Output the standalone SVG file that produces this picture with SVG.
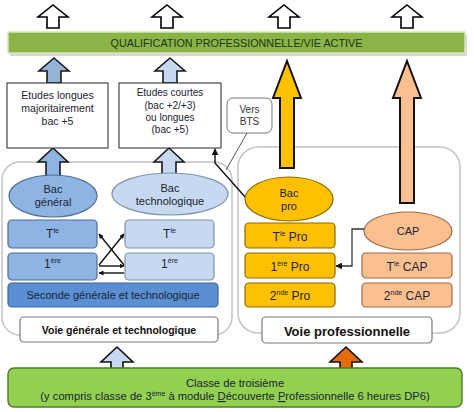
<svg xmlns="http://www.w3.org/2000/svg" width="474" height="412" viewBox="0 0 474 412">
<style>
text{font-family:"Liberation Sans",Arial,sans-serif;text-anchor:middle;fill:#1c2433}
.hollow{fill:#fff;stroke:#000;stroke-width:1.6;stroke-linejoin:miter}
.cont{fill:#fff;stroke:#c4c4c4;stroke-width:1.5}
.wbox{fill:#fff;stroke:#222;stroke-width:1}
.gen{fill:#8EB4E3;stroke:#4F6F96;stroke-width:1.2}
.tech{fill:#C6D9F1;stroke:#7F93AE;stroke-width:1.2}
.sec{fill:#5A8FD4;stroke:#3C6596;stroke-width:1.2}
.gold{fill:#FFC000;stroke:#8C6A00;stroke-width:1.2}
.peach{fill:#FAC090;stroke:#9C6A45;stroke-width:1.2}
.voie{fill:#fff;stroke:#7a7a7a;stroke-width:1.2}
.lab{font-size:12px}
.sup{font-size:7px}
.ln{fill:none;stroke:#111;stroke-width:1.4}
</style>
<defs>
<marker id="ah" viewBox="0 0 10 10" refX="9" refY="5" markerWidth="5" markerHeight="5" orient="auto-start-reverse" markerUnits="userSpaceOnUse">
<path d="M0,0 L10,5 L0,10 Z" fill="#111"/>
</marker>
<marker id="ah2" viewBox="0 0 10 10" refX="9" refY="5" markerWidth="7" markerHeight="7" orient="auto" markerUnits="userSpaceOnUse">
<path d="M0,0 L10,5 L0,10 Z" fill="#111"/>
</marker>
</defs>

<!-- containers -->
<g id="container-general"><rect class="cont" x="2" y="162" width="230" height="173" rx="18"/></g>
<g id="container-pro"><rect class="cont" x="238" y="147" width="222" height="186" rx="20"/></g>

<!-- top bar -->
<g id="qualification">
<rect x="10" y="35" width="457" height="21" fill="#bdbdbd" opacity="0.6"/>
<rect x="8" y="32" width="457" height="21" fill="#8AB446" stroke="#d6e6c0" stroke-width="1.5"/>
<text x="236.5" y="46.5" style="font-size:10.8px;fill:#24321a">QUALIFICATION PROFESSIONNELLE/VIE ACTIVE</text>
</g>

<g id="connectors">
<path class="hollow" d="M53,5 L68,17 L59,17 L59,28 L47,28 L47,17 L38,17 Z"/>
<path class="hollow" d="M167,5 L182,17 L173,17 L173,28 L161,28 L161,17 L152,17 Z"/>
<path class="hollow" d="M284,5 L299,17 L290,17 L290,28 L278,28 L278,17 L269,17 Z"/>
<path class="hollow" d="M407,5 L422,17 L413,17 L413,28 L401,28 L401,17 L392,17 Z"/>
<path d="M54,58 L69,71 L61,71 L61,83 L47,83 L47,71 L39,71 Z" fill="#95B3D7" stroke="#1a1a1a" stroke-width="1.6"/>
<path d="M170,58 L185,71 L177,71 L177,83 L163,83 L163,71 L155,71 Z" fill="#C6D9F1" stroke="#1a1a1a" stroke-width="1.6"/>
<path d="M53,148 L68,162 L60,162 L60,178 L46,178 L46,162 L38,162 Z" fill="#8EB4E3" stroke="#1a1a1a" stroke-width="1.6"/>
<path d="M169,148 L184,162 L176,162 L176,176 L162,176 L162,162 L154,162 Z" fill="#C6D9F1" stroke="#1a1a1a" stroke-width="1.6"/>
<path d="M287,61 L301,98 L294,98 L294,168 L280,168 L280,98 L273,98 Z" fill="#FFC000" stroke="#111" stroke-width="2"/>
<path d="M407,61 L421,98 L414,98 L414,203 L400,203 L400,98 L393,98 Z" fill="#FAC090" stroke="#111" stroke-width="2"/>
<path d="M117,347 L133,362 L123,362 L123,370 L111,370 L111,362 L101,362 Z" fill="#C6D9F1" stroke="#111" stroke-width="1.6"/>
<path d="M346,347 L362,362 L352,362 L352,370 L340,370 L340,362 L330,362 Z" fill="#E46C0A" stroke="#111" stroke-width="1.6"/>
<!-- vers BTS -->
<path class="ln" d="M246,198 L215,163 L215,149" marker-end="url(#ah2)"/>
<path d="M247,133 L226,170" fill="none" stroke="#555" stroke-width="1"/>
<!-- cross arrows -->
<path class="ln" d="M99,265 L124,234" marker-end="url(#ah)"/>
<path class="ln" d="M124,265 L99,234" marker-end="url(#ah)"/>
<path class="ln" d="M99,266 L124,266" marker-end="url(#ah)"/>
<path class="ln" d="M124,273 L99,273" marker-end="url(#ah)"/>
<!-- CAP to 1ere pro -->
<path d="M364,229 L352,229 L352,266 L336,266" fill="none" stroke="#333" stroke-width="1.3" marker-end="url(#ah2)"/>
</g>

<g id="etudes-longues">
<rect class="wbox" x="7" y="83" width="101" height="65"/>
<text x="57.5" y="99" style="font-size:10.5px">Etudes longues</text>
<text x="57.5" y="112" style="font-size:10.5px">majoritairement</text>
<text x="57.5" y="125" style="font-size:10.5px">bac +5</text>
</g>
<g id="etudes-courtes">
<rect class="wbox" x="119" y="83" width="102" height="65"/>
<text x="170" y="96" style="font-size:10px">Etudes courtes</text>
<text x="170" y="109" style="font-size:10px">(bac  +2/+3)</text>
<text x="170" y="121" style="font-size:10px">ou longues</text>
<text x="170" y="133" style="font-size:10px">(bac +5)</text>
</g>
<g id="vers-bts">
<rect x="227" y="98" width="45" height="35" rx="6" fill="#fff" stroke="#777" stroke-width="1"/>
<text x="249.5" y="113" style="font-size:10px;fill:#333">Vers</text>
<text x="249.5" y="125" style="font-size:10px;fill:#333">BTS</text>
</g>

<g id="bac-general">
<ellipse class="gen" cx="53" cy="196" rx="44" ry="21"/>
<text x="53" y="193" style="font-size:11px">Bac</text>
<text x="53" y="206" style="font-size:11px">général</text>
</g>
<g id="bac-techno">
<ellipse class="tech" cx="170" cy="194" rx="58" ry="21"/>
<text x="170" y="192" style="font-size:11px">Bac</text>
<text x="170" y="205" style="font-size:11px">technologique</text>
</g>
<g id="tle-gen"><rect class="gen" x="8" y="220" width="89" height="28" rx="4"/><text class="lab" x="52.5" y="238">T<tspan class="sup" dy="-5">le</tspan></text></g>
<g id="1ere-gen"><rect class="gen" x="8" y="253" width="89" height="27" rx="4"/><text class="lab" x="52.5" y="268">1<tspan class="sup" dy="-5">ère</tspan></text></g>
<g id="tle-tech"><rect class="tech" x="125" y="220" width="89" height="28" rx="4"/><text class="lab" x="169.5" y="238">T<tspan class="sup" dy="-5">le</tspan></text></g>
<g id="1ere-tech"><rect class="tech" x="125" y="253" width="89" height="27" rx="4"/><text class="lab" x="169.5" y="268">1<tspan class="sup" dy="-5">ère</tspan></text></g>
<g id="seconde"><rect class="sec" x="8" y="283" width="210" height="24" rx="4"/><text x="113" y="299" style="font-size:11px">Seconde générale et technologique</text></g>
<g id="voie-gen"><rect class="voie" x="20" y="317" width="198" height="25" rx="4"/><text x="119" y="334" style="font-size:10.5px;font-weight:bold;fill:#111">Voie générale et technologique</text></g>

<g id="bac-pro">
<ellipse class="gold" cx="289" cy="199" rx="44" ry="22"/>
<text x="289" y="197" style="font-size:11px">Bac</text>
<text x="289" y="210" style="font-size:11px">pro</text>
</g>
<g id="tle-pro"><rect class="gold" x="245" y="223" width="90" height="25" rx="4"/><text class="lab" x="290" y="241">T<tspan class="sup" dy="-5">le</tspan><tspan dy="5"> Pro</tspan></text></g>
<g id="1ere-pro"><rect class="gold" x="245" y="253" width="90" height="25" rx="4"/><text class="lab" x="290" y="271">1<tspan class="sup" dy="-5">ère</tspan><tspan dy="5"> Pro</tspan></text></g>
<g id="2nde-pro"><rect class="gold" x="245" y="283" width="90" height="24" rx="4"/><text class="lab" x="290" y="300">2<tspan class="sup" dy="-5">nde</tspan><tspan dy="5"> Pro</tspan></text></g>
<g id="cap">
<ellipse class="peach" cx="408" cy="231" rx="44" ry="19"/>
<text x="408" y="235" style="font-size:11px">CAP</text>
</g>
<g id="tle-cap"><rect class="peach" x="362" y="253" width="90" height="25" rx="4"/><text class="lab" x="407" y="271">T<tspan class="sup" dy="-5">le</tspan><tspan dy="5"> CAP</tspan></text></g>
<g id="2nde-cap"><rect class="peach" x="362" y="283" width="90" height="24" rx="4"/><text class="lab" x="407" y="300">2<tspan class="sup" dy="-5">nde</tspan><tspan dy="5"> CAP</tspan></text></g>
<g id="voie-pro"><rect class="voie" x="262" y="317" width="170" height="26" rx="4"/><text x="347" y="336" style="font-size:13px;font-weight:bold;fill:#111">Voie professionnelle</text></g>

<g id="troisieme">
<rect x="8" y="368" width="454" height="39" rx="6" fill="#92D050" stroke="#4E7A2A" stroke-width="1.4"/>
<text x="235" y="387" style="font-size:11.2px">Classe de troisième</text>
<text x="235" y="400" style="font-size:11.2px">(y compris classe de 3<tspan class="sup" dy="-4">ème</tspan><tspan dy="4"> à module </tspan><tspan text-decoration="underline">D</tspan>écouverte <tspan text-decoration="underline">P</tspan>rofessionnelle 6 heures DP6)</text>
</g>
</svg>
